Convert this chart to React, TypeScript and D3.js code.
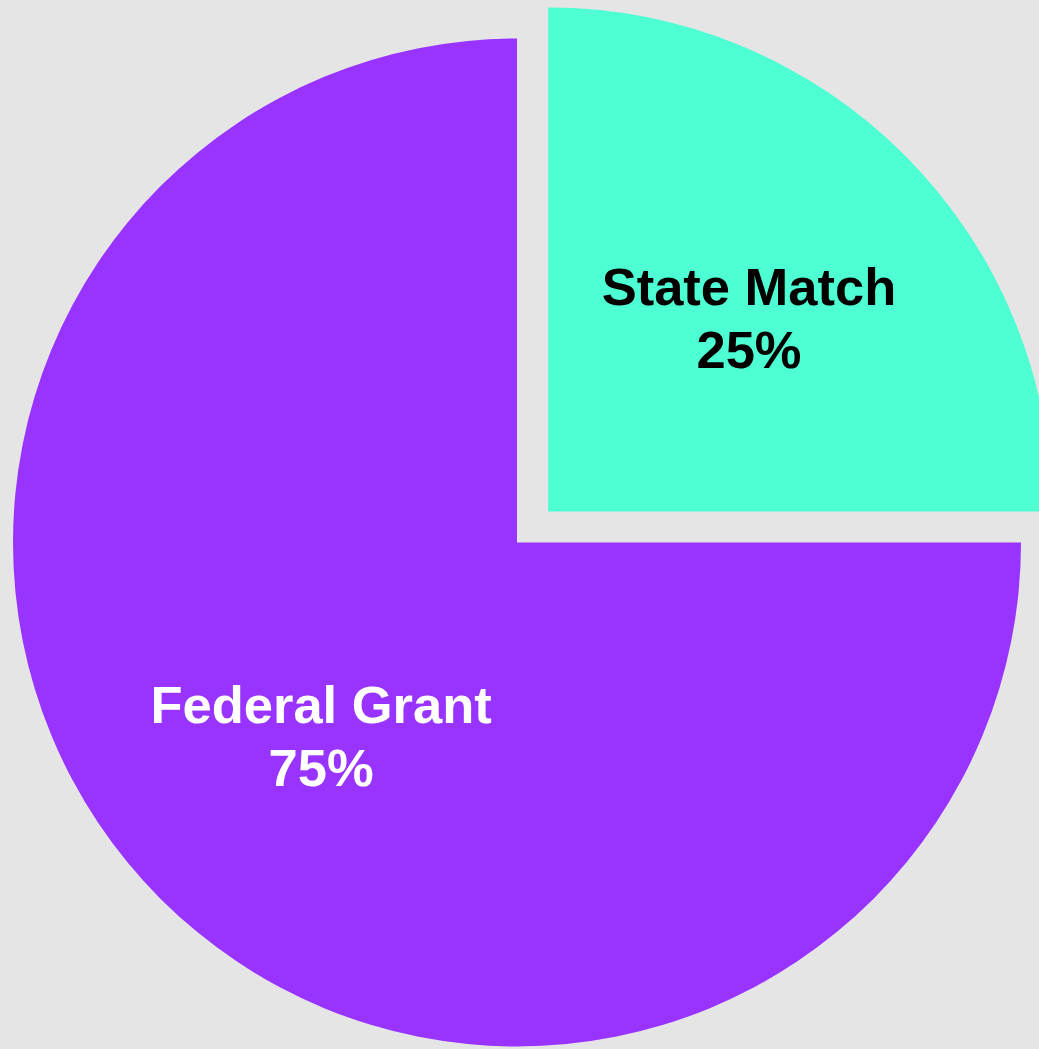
import React from "react";
import * as d3 from "d3";

const categories = ["State Match", "Federal Grant"];
const values = [25, 75];
const percentLabels = ["25%", "75%"];
const colors = ["#4dffd2", "#9933ff"];
const textColors = ["#000000", "#ffffff"];

const W = 1039;
const H = 1049;
const cx = 517;
const cy = 542.5;
const R = 504;
const explode = [44, 0];
const labelR = 277;
const labelNudge = [[5, 5], [0, 0]];
const fontSize = 52.5;

export default function App() {
  const pie = d3.pie<number>().sort(null).startAngle(0).endAngle(2 * Math.PI);
  const arcs = pie(values);
  const arc = d3.arc<d3.PieArcDatum<number>>().innerRadius(0).outerRadius(R);
  const labelArc = d3.arc<d3.PieArcDatum<number>>().innerRadius(labelR).outerRadius(labelR);

  return (
    <svg
      width={W}
      height={H}
      style={{ position: "fixed", left: 0, top: 0, background: "#e5e5e5" }}
    >
      <rect x={0} y={0} width={W} height={H} fill="#e5e5e5" />
      <g transform={`translate(${cx},${cy})`}>
        {arcs.map((a, i) => {
          const mid = (a.startAngle + a.endAngle) / 2;
          const ox = Math.sin(mid) * explode[i];
          const oy = -Math.cos(mid) * explode[i];
          const [cx0, cy0] = labelArc.centroid(a);
          const lx = cx0 + labelNudge[i][0];
          const ly = cy0 + labelNudge[i][1];
          return (
            <g key={categories[i]} transform={`translate(${ox},${oy})`}>
              <path d={arc(a) || ""} fill={colors[i]} />
              <text
                x={lx}
                y={ly}
                textAnchor="middle"
                fill={textColors[i]}
                fontFamily="'Liberation Sans', Arial, sans-serif"
                fontWeight="bold"
                fontSize={fontSize}
              >
                <tspan x={lx} dy="-0.3em">{categories[i]}</tspan>
                <tspan x={lx} dy="1.2em">{percentLabels[i]}</tspan>
              </text>
            </g>
          );
        })}
      </g>
    </svg>
  );
}
